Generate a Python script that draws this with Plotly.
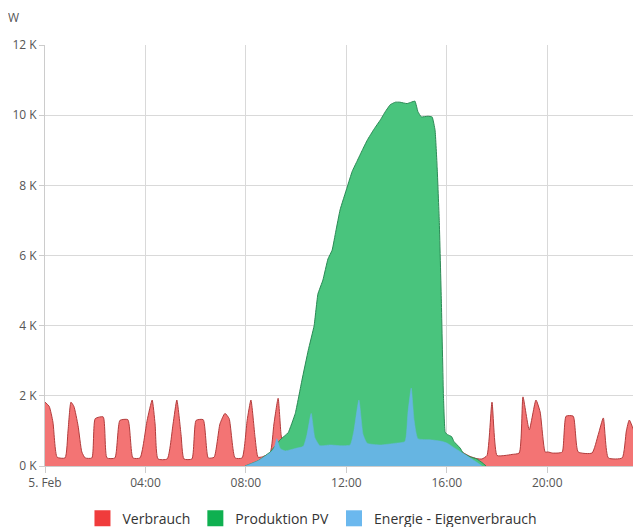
import plotly.graph_objects as go

DAY = "2024-02-05 "

# Verbrauch (W)
verbrauch_t = ["00:00","00:10","00:19","00:29","00:48","00:55","01:02","01:09","01:19","01:28","01:36","01:52",
               "02:00","02:19","02:28","02:47","02:59","03:18","03:30","03:47","04:04","04:16","04:23","04:30",
               "04:52","05:06","05:15","05:25","05:32","05:51","06:01","06:18","06:30","06:44","06:58","07:10",
               "07:20","07:34","07:51","08:03","08:12","08:22","08:29","08:39","08:58","09:07","09:17","09:24",
               "09:31","09:58","10:17","10:26","10:36","10:45","10:57","11:21","11:45","12:09","12:18","12:30",
               "12:40","12:50","13:21","13:57","14:20","14:27","14:35","14:42","14:51","15:20","15:49","16:01",
               "16:20","16:39","16:56","17:12","17:24","17:36","17:48","18:00","18:19","18:36","18:53","19:02",
               "19:17","19:33","19:43","19:55","20:02","20:12","20:26","20:36","20:45","21:02","21:14","21:47",
               "22:02","22:14","22:26","22:59","23:09","23:16","23:30","23:44"]
verbrauch_w = [1820,1700,1250,250,230,1000,1820,1700,1150,400,230,230,
               1350,1400,230,230,1300,1320,230,230,1300,1880,1200,200,
               200,1200,1880,900,200,200,1300,1320,230,250,1200,1500,
               1350,230,230,1300,1880,800,250,260,380,1200,1930,900,
               450,500,560,900,1500,800,580,600,580,600,1000,1880,
               900,650,600,650,700,1500,2220,1300,780,750,700,650,
               520,380,270,210,200,300,1820,300,300,330,370,1970,
               1030,1880,1540,400,400,370,370,400,1420,1420,400,370,
               900,1370,230,230,1000,1310,900,300]

# Produktion PV (W)
pv_t = ["07:58","08:29","08:58","09:22","09:41","09:58","10:14","10:29","10:43","10:52","11:04","11:16",
        "11:26","11:35","11:45","12:02","12:14","12:26","12:38","12:50","13:06","13:21","13:33","13:45",
        "13:57","14:08","14:25","14:35","14:44","14:51","14:59","15:15","15:25","15:32","15:37","15:42",
        "15:47","15:52","15:56","16:01","16:08","16:12","16:17","16:32","16:39","16:56","17:12","17:24","17:34"]
pv_w = [0,150,400,750,950,1500,2450,3300,4000,4900,5300,5900,
        6150,6700,7300,7950,8400,8700,9000,9290,9600,9860,10100,10300,
        10370,10370,10330,10370,10400,10100,9950,9970,9950,9570,8500,7000,
        4700,2000,970,900,860,830,700,510,370,260,200,100,0]

# Energie - Eigenverbrauch (W)
eigen_t = ["07:58","08:29","08:58","09:07","09:14","09:22","09:34","09:58","10:17","10:26","10:36","10:45",
           "10:57","11:21","11:45","12:09","12:18","12:30","12:40","12:50","13:21","13:57","14:20","14:27",
           "14:35","14:42","14:51","15:20","15:49","16:01","16:20","16:39","16:56","17:10","17:24"]
eigen_w = [0,150,380,500,780,500,430,500,560,900,1500,800,
           580,600,580,600,1000,1880,900,650,600,650,700,1500,
           2220,1300,780,750,700,650,500,360,230,120,0]

tick_hours = ["00:00","04:00","08:00","12:00","16:00","20:00"]
tick_labels = ["5. Feb","04:00","08:00","12:00","16:00","20:00"]
y_ticks = [0,2000,4000,6000,8000,10000,12000]
y_labels = ["0 K","2 K","4 K","6 K","8 K","10 K","12 K"]

series_names = ["Verbrauch","Produktion PV","Energie - Eigenverbrauch"]
legend_colors = ["#f03c3c","#0fb050","#6bb8ee"]

fig = go.Figure()
fig.add_trace(go.Scatter(x=[DAY+t for t in verbrauch_t], y=verbrauch_w, mode="lines",
                         fill="tozeroy", fillcolor="#f37474",
                         line=dict(color="#b23b3b", width=1, shape="spline", smoothing=0.5),
                         showlegend=False, hoverinfo="skip"))
fig.add_trace(go.Scatter(x=[DAY+t for t in pv_t], y=pv_w, mode="lines",
                         fill="tozeroy", fillcolor="#49c47d",
                         line=dict(color="#2b8a55", width=1, shape="spline", smoothing=0.3),
                         showlegend=False, hoverinfo="skip"))
fig.add_trace(go.Scatter(x=[DAY+t for t in eigen_t], y=eigen_w, mode="lines",
                         fill="tozeroy", fillcolor="#66b5e2",
                         line=dict(color="#66b5e2", width=0.5, shape="spline", smoothing=0.5),
                         showlegend=False, hoverinfo="skip"))
for n, c in zip(series_names, legend_colors):
    fig.add_trace(go.Scatter(x=[None], y=[None], mode="markers", name=n,
                             marker=dict(symbol="square", size=16, color=c)))

fig.update_layout(
    width=633, height=519,
    margin=dict(l=37, r=0, t=37, b=61),
    paper_bgcolor="white", plot_bgcolor="white",
    font=dict(family="Open Sans", size=12, color="#555555"),
    showlegend=True,
    legend=dict(orientation="h", xref="container", yref="container", x=0.481, xanchor="center",
                y=0.016, yanchor="middle", font=dict(size=14, color="#333333"),
                itemwidth=30, tracegroupgap=0),
    xaxis=dict(type="date", range=[DAY+"00:00", DAY+"23:44"],
               tickvals=[DAY+t for t in tick_hours], ticktext=tick_labels,
               showgrid=True, gridcolor="#d9d9d9", gridwidth=1,
               ticks="outside", ticklen=6, tickcolor="#cccccc",
               showline=True, linecolor="#cccccc", zeroline=False),
    yaxis=dict(range=[0,12000], tickvals=y_ticks, ticktext=y_labels,
               showgrid=True, gridcolor="#d9d9d9", gridwidth=1,
               ticks="outside", ticklen=5, tickcolor="#cccccc",
               showline=True, linecolor="#cccccc", zeroline=False),
    annotations=[dict(text="W", xref="paper", yref="paper", x=0, y=1, xanchor="right",
                      yanchor="middle", xshift=-24, yshift=28, showarrow=False,
                      font=dict(size=12, color="#555555"))],
)

fig.write_html("out.html")
